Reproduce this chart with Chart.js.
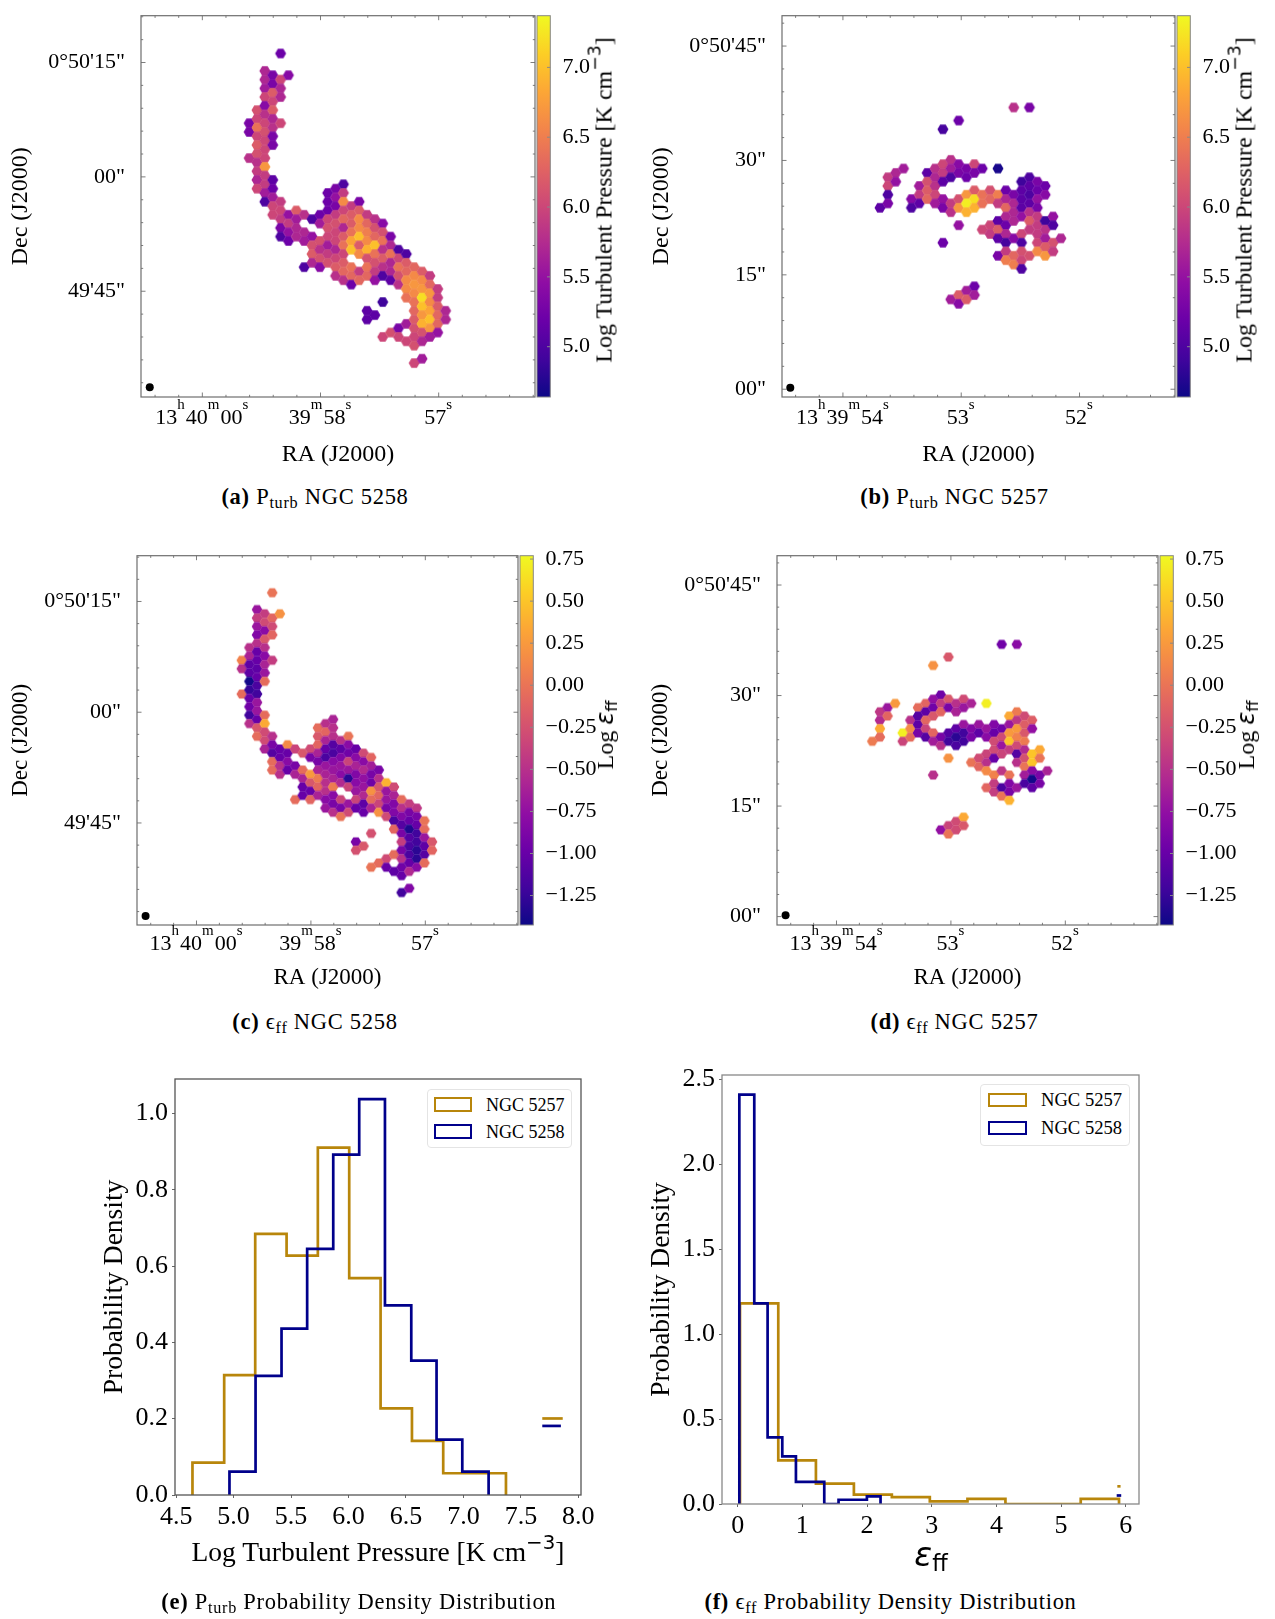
<!DOCTYPE html>
<html>
<head>
<meta charset="utf-8">
<title>NGC 5257/8 turbulent pressure and star formation efficiency</title>
<script src="https://cdn.jsdelivr.net/npm/chart.js@4"></script>
<style>
  html, body { margin: 0; padding: 0; background: #fff; }
  #page { position: relative; width: 1275px; height: 1619px; overflow: hidden; font-family: "Liberation Serif", serif; color: #000; }
  canvas { position: absolute; }
  .label { position: absolute; white-space: nowrap; transform: translate(-50%, -50%); }
  .rot { transform: translate(-50%, -50%) rotate(-90deg); }
  .up { font-family: "DejaVu Sans", sans-serif; font-size: 0.72em; position: relative; top: -0.62em; }
  .eps { font-family: "DejaVu Sans", sans-serif; font-style: italic; }
  .ff { font-family: "DejaVu Sans", sans-serif; font-size: 0.68em; position: relative; top: 0.22em; }
  .caption { font-size: 22.5px; letter-spacing: 0.72px; }
  .caption sub { font-size: 0.72em; vertical-align: baseline; position: relative; top: 0.25em; }
  .legend { position: absolute; border: 1px solid #e4e4e4; border-radius: 4px; background: #fff; box-sizing: border-box; }
  .legend-swatch { position: absolute; box-sizing: border-box; border-style: solid; border-width: 2.7px; }
  .legend-text { position: absolute; white-space: nowrap; transform: translateY(-50%); }
</style>
</head>
<body>
<div id="page"></div>
<script>
// Each row: lattice column, then (lattice row, value) pairs
const pturb5258 = [
  [-4, 16,5.3, 18,5.3, 24,5.8],
  [-3, 13,6.1, 15,6.0, 17,6.4, 19,6.0, 21,6.2, 23,6.1, 25,5.8, 27,5.9, 29,5.7, 31,6.0],
  [-2, 4,5.7, 6,5.7, 8,5.6, 10,6.0, 12,5.4, 14,5.8, 16,6.0, 18,6.1, 20,6.0, 22,6.0, 24,6.0, 26,6.7, 28,5.9, 30,5.9, 32,5.6, 34,5.0],
  [-1, 5,5.3, 7,5.3, 9,6.2, 11,6.0, 13,6.2, 15,5.7, 17,5.8, 19,5.3, 21,5.3, 29,5.1, 31,5.2, 33,5.6, 35,6.0, 37,6.0],
  [0, 0,5.2, 6,6.0, 8,5.7, 10,5.7, 16,6.0, 34,5.9, 36,6.0, 38,5.9, 40,5.3, 42,5.0],
  [1, 5,5.4, 37,5.5, 39,5.9, 41,5.5, 43,5.2],
  [2, 36,6.2, 38,5.6, 40,5.7, 42,5.7],
  [3, 37,5.8, 41,5.7, 43,5.6, 49,5.0],
  [4, 38,5.0, 42,5.5, 44,6.1, 46,6.2, 48,5.7],
  [5, 37,5.2, 39,5.6, 43,6.1, 45,5.8, 47,6.1, 49,5.4],
  [6, 32,5.2, 34,5.2, 36,5.2, 38,6.0, 40,6.1, 42,6.0, 44,5.6, 46,5.9, 48,6.1],
  [7, 31,5.3, 33,5.5, 35,5.3, 37,5.9, 39,6.1, 41,6.0, 43,6.0, 45,5.7, 47,6.0, 49,6.2, 51,5.8],
  [8, 30,5.0, 32,5.9, 34,6.6, 36,6.0, 38,6.3, 40,5.7, 42,6.2, 44,6.4, 46,6.0, 48,6.2, 50,6.3, 52,5.8],
  [9, 35,5.9, 37,6.2, 39,6.2, 41,6.4, 43,6.8, 45,7.0, 49,6.4, 51,6.3, 53,5.2],
  [10, 34,5.3, 36,6.2, 38,6.6, 40,6.6, 42,7.0, 44,6.2, 46,6.6, 50,5.9, 52,6.3],
  [11, 37,5.9, 39,6.3, 41,6.5, 43,6.6, 45,6.9, 47,6.1, 49,6.4, 51,6.3, 59,5.1, 61,5.1],
  [12, 38,5.8, 40,6.1, 42,6.3, 44,7.0, 46,6.4, 48,6.1, 50,5.9, 52,5.5, 60,5.1],
  [13, 39,5.4, 41,6.1, 43,6.4, 45,5.8, 47,6.2, 49,5.8, 51,5.0, 57,4.9, 65,6.0],
  [14, 42,5.3, 44,5.7, 46,6.4, 48,5.7, 50,5.7, 52,5.1, 64,6.1],
  [15, 45,5.0, 47,6.0, 49,6.4, 51,6.1, 53,5.8, 63,5.3, 65,6.0],
  [16, 46,5.0, 48,6.2, 50,6.3, 52,6.6, 54,6.6, 56,6.4, 62,5.6, 66,6.0],
  [17, 49,6.3, 51,6.6, 53,6.7, 55,6.6, 57,6.4, 59,6.3, 61,6.2, 63,6.1, 65,6.0, 67,6.1, 71,6.0],
  [18, 50,6.2, 52,6.6, 54,6.7, 56,7.2, 58,7.0, 60,6.7, 62,6.9, 64,6.1, 66,5.7, 70,5.6],
  [19, 51,5.9, 53,6.3, 55,6.7, 57,6.6, 59,6.8, 61,7.0, 63,6.7, 65,5.6],
  [20, 54,5.9, 56,5.9, 58,6.2, 60,6.3, 62,6.3, 64,5.5],
  [21, 59,5.7, 61,5.7]
];

const pturb5257 = [
  [-10, 20,5.1],
  [-9, 13,5.9, 15,6.0, 17,5.0, 19,5.3],
  [-8, 12,5.7, 14,5.5],
  [-7, 11,5.6],
  [-6, 18,5.4, 20,5.0],
  [-5, 15,5.6, 17,5.9, 19,5.1],
  [-4, 12,5.1, 14,6.1, 16,6.2, 18,6.3],
  [-3, 11,5.8, 13,5.7, 15,5.8, 17,6.0, 19,5.6],
  [-2, 2,4.95, 10,6.0, 12,5.9, 14,5.1, 18,5.5, 20,5.3, 28,5.2],
  [-1, 9,5.8, 11,5.6, 13,5.0, 19,5.9, 21,5.8, 41,5.6],
  [0, 0,5.2, 10,5.4, 12,5.3, 18,6.1, 20,6.7, 24,5.5, 40,6.2, 42,5.4],
  [1, 11,5.3, 13,5.2, 17,6.7, 19,7.3, 21,6.9, 39,5.6, 41,6.2],
  [2, 10,6.0, 12,5.3, 16,6.2, 18,7.2, 20,6.9, 38,5.2, 40,5.6],
  [3, 11,5.2, 17,6.4, 19,6.4, 25,6.0],
  [4, 16,6.1, 18,6.3, 24,6.0, 26,5.9],
  [5, 11,4.7, 17,6.5, 19,5.9, 23,5.1, 25,6.2, 27,5.1, 31,5.3],
  [6, 16,5.2, 18,5.7, 20,6.3, 22,5.7, 24,5.2, 26,5.7, 28,4.95, 30,5.9, 32,6.5],
  [7, -3,5.8, 17,5.3, 19,5.7, 21,5.7, 23,5.7, 27,5.4, 31,6.3, 33,6.5],
  [8, 14,4.9, 16,5.1, 18,5.1, 20,5.1, 22,5.5, 26,6.0, 28,5.0, 30,6.1, 32,6.0, 34,5.0],
  [9, -3,5.3, 13,5.0, 15,5.1, 17,5.0, 19,5.1, 21,5.8, 23,6.2, 25,5.9, 31,6.1],
  [10, 14,5.3, 16,5.2, 18,5.5, 20,5.3, 22,5.9, 24,5.9, 26,5.9, 28,6.0, 30,6.6],
  [11, 15,5.2, 17,5.4, 23,4.9, 25,5.8, 27,5.6, 29,6.2, 31,6.7],
  [12, 22,5.5, 24,5.0, 28,6.1, 30,5.9],
  [13, 27,5.7]
];

const eff5258 = [
  [-4, 16,0.1, 18,-0.5, 24,-0.05],
  [-3, 13,-0.5, 15,-0.6, 17,-1.05, 19,-1.05, 21,-1.4, 23,-1.25, 25,-1.0, 27,-0.95, 29,-1.2, 31,-0.5],
  [-2, 4,-0.7, 6,-0.4, 8,-0.7, 10,-0.85, 12,-0.5, 14,-1.0, 16,-1.0, 18,-1.05, 20,-1.0, 22,-1.15, 24,-1.2, 26,-0.7, 28,-0.7, 30,-1.0, 32,-0.2, 34,-0.05],
  [-1, 5,-0.4, 7,-0.3, 9,-0.8, 11,-0.2, 13,-0.5, 15,-0.8, 17,-0.6, 19,-0.7, 21,-0.05, 29,-0.05, 31,0.35, 33,-0.3, 35,-0.3, 37,-0.6],
  [0, 0,0.0, 6,-0.1, 8,-0.3, 10,-0.1, 16,-0.4, 34,-0.5, 36,-0.9, 38,-1.1, 40,-0.05, 42,-0.05],
  [1, 5,0.2, 37,-1.0, 39,-1.0, 41,-0.5, 43,-0.5],
  [2, 36,0.15, 38,-1.0, 40,-0.8, 42,-1.0],
  [3, 37,-0.35, 41,-0.9, 43,-0.6, 49,-0.05],
  [4, 38,-0.2, 42,-0.05, 44,-0.6, 46,-1.0, 48,-1.0],
  [5, 37,-0.3, 39,-0.9, 43,0.25, 45,-0.2, 47,-1.0, 49,-0.1],
  [6, 32,-0.05, 34,-0.2, 36,-0.1, 38,-0.6, 40,-0.9, 42,-0.6, 44,0.05, 46,-0.1, 48,-0.6],
  [7, 31,-0.5, 33,-0.1, 35,-0.6, 37,-1.0, 39,-1.15, 41,-0.7, 43,-0.6, 45,-0.5, 47,-0.5, 49,-0.8, 51,-0.7],
  [8, 30,-0.6, 32,-0.5, 34,-0.5, 36,-1.1, 38,-1.15, 40,-0.8, 42,-0.7, 44,-0.6, 46,0.05, 48,-0.8, 50,-0.9, 52,-0.5],
  [9, 35,-0.5, 37,-1.05, 39,-0.85, 41,-0.7, 43,-0.8, 45,-0.55, 49,-0.35, 51,-0.9, 53,0.0],
  [10, 34,0.0, 36,-0.8, 38,-0.95, 40,-0.35, 42,-0.7, 44,-1.3, 46,-0.35, 50,-0.7, 52,-0.3],
  [11, 37,-1.0, 39,-0.8, 41,-0.6, 43,-0.85, 45,-0.8, 47,-0.7, 49,-0.35, 51,-1.0, 59,-0.9, 61,-0.25],
  [12, 38,-0.3, 40,-0.8, 42,-0.55, 44,-0.75, 46,-0.7, 48,-0.55, 50,-1.05, 52,-1.0, 60,-0.2],
  [13, 39,-0.1, 41,-0.65, 43,-0.9, 45,-0.95, 47,0.2, 49,-0.05, 51,-0.6, 57,-0.25, 65,0.0],
  [14, 42,-0.9, 44,-0.5, 46,-0.2, 48,-0.1, 50,-0.35, 52,0.2, 64,-0.05],
  [15, 45,0.4, 47,-0.7, 49,-0.7, 51,-0.9, 53,-0.3, 63,-0.3, 65,-1.0],
  [16, 46,-0.3, 48,-0.6, 50,-0.85, 52,-0.85, 54,-1.15, 56,-0.1, 62,-0.05, 66,-1.05],
  [17, 49,-0.05, 51,-0.5, 53,-0.85, 55,-1.1, 57,-0.9, 59,-0.4, 61,-0.9, 63,-0.5, 65,-0.95, 67,-1.0, 71,-1.2],
  [18, 50,-0.4, 52,-0.9, 54,-1.0, 56,-1.35, 58,-1.1, 60,-1.15, 62,-1.15, 64,-1.0, 66,-0.55, 70,-0.85],
  [19, 51,-0.45, 53,-0.9, 55,-1.0, 57,-1.2, 59,-1.2, 61,-1.3, 63,-1.3, 65,-0.8],
  [20, 54,0.0, 56,-0.05, 58,-0.7, 60,-1.05, 62,-1.1, 64,-0.05],
  [21, 59,-0.2, 61,-0.1]
];

const eff5257 = [
  [-10, 20,0.05],
  [-9, 13,-0.45, 15,-0.55, 17,0.35, 19,-0.05],
  [-8, 12,-0.7, 14,-0.1],
  [-7, 11,0.25],
  [-6, 18,0.72, 20,-0.35],
  [-5, 15,-0.5, 17,0.15, 19,-0.05],
  [-4, 12,-0.05, 14,-1.1, 16,-1.05, 18,-0.9],
  [-3, 11,-0.1, 13,-1.05, 15,-0.1, 17,-0.35, 19,-1.1],
  [-2, 2,0.2, 10,-0.75, 12,-0.95, 14,-0.2, 18,-0.1, 20,-0.65, 28,-0.5],
  [-1, 9,-0.95, 11,-0.4, 13,-0.1, 19,-0.9, 21,-0.5, 41,-0.75],
  [0, 0,-0.2, 10,-0.2, 12,-0.9, 18,-1.1, 20,-1.2, 24,0.2, 40,-0.35, 42,0.0],
  [1, 11,-0.5, 13,-0.6, 17,-1.05, 19,-1.3, 21,-1.15, 39,-0.3, 41,-0.3],
  [2, 10,-0.3, 12,-0.7, 16,-0.7, 18,-1.2, 20,-1.2, 38,0.35, 40,-0.2],
  [3, 11,-0.6, 17,-0.85, 19,-0.9, 25,0.0],
  [4, 16,-0.7, 18,-1.05, 24,-0.3, 26,-0.1],
  [5, 11,0.72, 17,-0.7, 19,-0.8, 23,-0.35, 25,-0.5, 27,0.15, 31,-0.1],
  [6, 16,-0.85, 18,-1.0, 20,-0.3, 22,-0.3, 24,-1.0, 28,0.1, 30,-0.4, 32,-0.4],
  [7, -3,-0.95, 17,-0.95, 19,-0.3, 21,-0.7, 23,-0.35, 27,-0.45, 31,-1.15, 33,0.0],
  [8, 14,0.35, 16,-0.7, 18,0.25, 20,0.5, 22,-0.4, 28,0.0, 30,-0.85, 32,-0.9, 34,0.4],
  [9, -3,-0.8, 13,0.05, 15,-0.45, 17,0.25, 19,0.1, 21,-0.3, 23,-1.1, 25,-0.5, 31,-0.7],
  [10, 14,-0.3, 16,-0.15, 18,-0.2, 20,0.05, 22,-0.55, 24,-0.25, 26,0.0, 28,-0.65, 30,-1.15],
  [11, 15,-0.15, 17,-0.75, 23,0.5, 25,0.5, 27,-0.8, 29,-1.4, 31,-1.05],
  [12, 22,0.35, 24,0.0, 28,-0.9, 30,-0.9],
  [13, 27,-0.6]
];

// Sky position of the hexagon lattice, seconds of RA and arcsec of Dec
const latticeOrigin5258 = [59.338, 76.19];
const latticeOrigin5257 = [53.022, 35.23];
const latticeStep = [0.0665, 0.572];
const beam5258 = [60.445, 32.4];
const beam5257 = [54.445, 0.2];

const raTicks5258 = [60, 59, 58];
const raTicks5257 = [54, 53, 52];
const raLabels5258 = [[['13', 'h'], ['40', 'm'], ['00', 's']], [['39', 'm'], ['58', 's']], [['57', 's']]];
const raLabels5257 = [[['13', 'h'], ['39', 'm'], ['54', 's']], [['53', 's']], [['52', 's']]];
const decTicks5258 = [75, 60, 45];
const decLabels5258 = ['0°50\'15"', '00"', '49\'45"'];
const decTicks5257 = [45, 30, 15, 0];
const decLabels5257 = ['0°50\'45"', '30"', '15"', '00"'];

const pturbBarTicks = [5.0, 5.5, 6.0, 6.5, 7.0];
const effBarTicks = [-1.25, -1.0, -0.75, -0.5, -0.25, 0, 0.25, 0.5, 0.75];
const pturbRange = [4.64, 7.37];
const effRange = [-1.425, 0.77];

const pturbEdges5257 = [4.642, 4.918, 5.188, 5.461, 5.733, 6.006, 6.279, 6.552, 6.824, 7.097, 7.37];
const pturbDensity5257 = [0.085, 0.314, 0.684, 0.627, 0.91, 0.568, 0.227, 0.142, 0.057, 0.057];
const pturbEdges5258 = [4.964, 5.191, 5.417, 5.64, 5.867, 6.093, 6.317, 6.546, 6.766, 6.99, 7.219];
const pturbDensity5258 = [0.061, 0.312, 0.436, 0.645, 0.892, 1.0375, 0.497, 0.352, 0.145, 0.061];
const pturbStray5257 = [[7.686, 0.2005], [7.864, 0.2005]];
const pturbStray5258 = [[7.686, 0.181], [7.848, 0.181]];
const pturbXTicks = [4.5, 5.0, 5.5, 6.0, 6.5, 7.0, 7.5, 8.0];
const pturbYTicks = [0, 0.2, 0.4, 0.6, 0.8, 1.0];

const effEdges5257 = [0.036, 0.628, 1.21, 1.797, 2.384, 2.971, 3.553, 4.14, 4.722, 5.304, 5.896];
const effDensity5257 = [1.18, 0.257, 0.12, 0.055, 0.04, 0.015, 0.03, 0, 0, 0.03];
const effEdges5258 = [0.026, 0.257, 0.463, 0.69, 0.901, 1.123, 1.339, 1.56, 1.782, 1.998, 2.209];
const effDensity5258 = [2.408, 1.18, 0.392, 0.28, 0.13, 0.13, 0, 0.025, 0.025, 0.045];
const effStray5257 = [[5.87, 0.104], [5.92, 0.104]];
const effStray5258 = [[5.86, 0.05], [5.93, 0.05]];
const effXTicks = [0, 1, 2, 3, 4, 5, 6];
const effYTicks = [0, 0.5, 1.0, 1.5, 2.0, 2.5];

const galaxyNames = ['NGC 5257', 'NGC 5258'];
const galaxyColors = ['#b8860b', '#00008b'];

const plasma = ['#0d0887', '#41049d', '#6a00a8', '#8f0da4', '#b12a90', '#cc4778', '#e16462', '#f2844b', '#fca636', '#fcce25', '#f0f921'];

const page = document.getElementById('page');
const serif = '"Liberation Serif"';

function plasmaColor(t) {
  t = Math.min(1, Math.max(0, t)) * (plasma.length - 1);
  const i = Math.min(plasma.length - 2, Math.floor(t));
  const a = parseInt(plasma[i].slice(1), 16), b = parseInt(plasma[i + 1].slice(1), 16);
  const mix = s => Math.round(((a >> s) & 255) * (1 - t + i) + ((b >> s) & 255) * (t - i));
  return `rgb(${mix(16)},${mix(8)},${mix(0)})`;
}

// chart.js has no hexagon point style, so points use small canvases
const hexCache = {};
function hexImage(color, r) {
  const key = color + r;
  if (hexCache[key]) return hexCache[key];
  const c = document.createElement('canvas');
  c.width = c.height = 16;
  const g = c.getContext('2d');
  g.filter = 'blur(0.45px)';
  g.fillStyle = color;
  g.beginPath();
  for (let i = 0; i < 6; i++) {
    g.lineTo(8 + (r + 0.25) * Math.cos(i * Math.PI / 3), 8 + (r + 0.25) * Math.sin(i * Math.PI / 3));
  }
  g.closePath();
  g.fill();
  hexCache[key] = c;
  return c;
}

function addLabel(html, x, y, style, cls) {
  const d = document.createElement('div');
  d.className = 'label ' + (cls || '');
  d.style.left = x + 'px';
  d.style.top = y + 'px';
  d.style.cssText += style || '';
  d.innerHTML = html;
  page.appendChild(d);
}

function addCanvas(box, margin) {
  const c = document.createElement('canvas');
  c.width = margin.l + box.r - box.l + margin.r;
  c.height = margin.t + box.b - box.t + margin.b;
  c.style.left = (box.l - margin.l) + 'px';
  c.style.top = (box.t - margin.t) + 'px';
  page.appendChild(c);
  return c;
}

function setTicks(values) {
  return scale => { scale.ticks = values.map(v => ({ value: v })); };
}

function mapPoints(rows, origin) {
  const pts = [];
  rows.forEach(row => {
    for (let i = 1; i < row.length; i += 2) {
      pts.push({ x: origin[0] - row[0] * latticeStep[0], y: origin[1] - row[i] * latticeStep[1], v: row[i + 1] });
    }
  });
  return pts;
}

const mapFurniture = {
  id: 'mapFurniture',
  afterDraw(chart, args, o) {
    const g = chart.ctx, a = chart.chartArea, xs = chart.scales.x, ys = chart.scales.y, cb = chart.scales.cb;
    g.save();
    // colour bar
    const grad = g.createLinearGradient(0, a.bottom, 0, a.top);
    plasma.forEach((c, i) => grad.addColorStop(i / (plasma.length - 1), c));
    g.fillStyle = grad;
    g.fillRect(a.right + 2, a.top, 13.3, a.bottom - a.top);
    g.strokeStyle = '#888';
    g.lineWidth = 1;
    g.strokeRect(a.right + 2, a.top, 13.3, a.bottom - a.top);
    o.barTicks.forEach(v => {
      const y = cb.getPixelForValue(v);
      g.beginPath();
      g.moveTo(a.right + 15.3, y);
      g.lineTo(a.right + 12, y);
      g.stroke();
    });
    // frame and inward ticks on all four sides
    g.strokeStyle = '#6e6e6e';
    g.lineWidth = 1.2;
    g.strokeRect(a.left, a.top, a.right - a.left, a.bottom - a.top);
    g.lineWidth = 0.9;
    const tick = (x0, y0, x1, y1) => { g.beginPath(); g.moveTo(x0, y0); g.lineTo(x1, y1); g.stroke(); };
    for (let v = o.raTicks[0] + 0.4; v > xs.min; v -= 0.2) {
      const x = xs.getPixelForValue(v);
      const major = o.raTicks.some(t => Math.abs(t - v) < 0.01);
      const len = major ? 4.5 : 2.2;
      if (x < a.left || x > a.right) continue;
      tick(x, a.bottom, x, a.bottom - len);
      tick(x, a.top, x, a.top + len);
    }
    for (let v = o.decTicks[0] + 6; v > ys.min; v -= 3) {
      const y = ys.getPixelForValue(v);
      const major = o.decTicks.includes(v);
      const len = major ? 4.5 : 2.2;
      if (y < a.top || y > a.bottom) continue;
      tick(a.left, y, a.left + len, y);
      tick(a.right, y, a.right - len, y);
    }
    // RA labels with raised unit letters
    g.fillStyle = '#000';
    g.textBaseline = 'alphabetic';
    g.textAlign = 'left';
    const bigFont = `${o.tickSize}px ${serif}`, smallFont = `${Math.round(o.tickSize * 0.7)}px ${serif}`;
    o.raTicks.forEach((v, i) => {
      const parts = o.raLabels[i];
      let w = 0;
      parts.forEach(p => {
        g.font = bigFont; w += g.measureText(p[0]).width;
        g.font = smallFont; w += g.measureText(p[1]).width + 1;
      });
      let x = xs.getPixelForValue(v) - w / 2;
      const y = a.bottom + o.raBase;
      parts.forEach(p => {
        g.font = bigFont; g.fillText(p[0], x, y); x += g.measureText(p[0]).width;
        g.font = smallFont; g.fillText(p[1], x, y - o.tickSize * 0.66); x += g.measureText(p[1]).width + 1;
      });
    });
    g.restore();
  }
};

function makeMap(p) {
  const margin = { l: 135, r: 85, t: 20, b: p.bottom };
  new Chart(addCanvas(p.box, margin), {
    type: 'scatter',
    data: {
      datasets: [
        { data: mapPoints(p.rows, p.origin),
          pointRadius: 5,
          pointStyle: ctx => hexImage(plasmaColor((ctx.raw.v - p.range[0]) / (p.range[1] - p.range[0])), p.hex) },
        { data: [{ x: p.beam[0], y: p.beam[1] }], pointRadius: 4, backgroundColor: '#000', borderWidth: 0 }
      ]
    },
    options: {
      responsive: false,
      animation: false,
      devicePixelRatio: 1,
      layout: { padding: { top: margin.t, left: 0, right: 0, bottom: 0 } },
      plugins: {
        legend: { display: false },
        tooltip: { enabled: false },
        mapFurniture: { barTicks: p.barTicks, raTicks: p.raTicks, raLabels: p.raLabels, decTicks: p.decTicks, tickSize: p.tickSize, raBase: p.raBase }
      },
      scales: {
        x: {
          type: 'linear', reverse: true, min: p.xLim[0], max: p.xLim[1],
          grid: { display: false }, border: { display: false },
          ticks: { display: false },
          afterBuildTicks: setTicks(p.raTicks),
          afterFit: s => { s.height = margin.b; },
          title: { display: true, text: 'RA (J2000)', color: '#000', padding: 0, font: { family: serif, size: p.titleSize } }
        },
        y: {
          type: 'linear', min: p.yLim[0], max: p.yLim[1],
          grid: { display: false }, border: { display: false },
          ticks: { color: '#000', padding: 8, autoSkip: false, font: { family: serif, size: p.tickSize },
            callback: (v, i) => p.decLabels[i] },
          afterBuildTicks: setTicks(p.decTicks),
          afterFit: s => { s.width = margin.l; },
          title: { display: true, text: 'Dec (J2000)', color: '#000', padding: { top: p.titlePad, bottom: 0 }, font: { family: serif, size: p.titleSize } }
        },
        cb: {
          axis: 'y', type: 'linear', position: 'right', min: p.range[0], max: p.range[1],
          grid: { display: false }, border: { display: false },
          ticks: { color: '#000', padding: p.barPad, autoSkip: false, font: { family: serif, size: p.tickSize },
            callback: v => (p.barDigits === 2 ? v.toFixed(2) : v.toFixed(1)).replace('-', '\u2212') },
          afterBuildTicks: setTicks(p.barTicks),
          afterFit: s => { s.width = margin.r; }
        }
      }
    },
    plugins: [mapFurniture]
  });
}

function histOutline(edges, density) {
  const pts = [{ x: edges[0], y: 0 }];
  density.forEach((d, i) => {
    pts.push({ x: edges[i], y: d });
    pts.push({ x: edges[i + 1], y: d });
  });
  pts.push({ x: edges[edges.length - 1], y: 0 });
  return pts;
}

const histFrame = {
  id: 'histFrame',
  afterDraw(chart, args, o) {
    const g = chart.ctx, a = chart.chartArea;
    g.save();
    g.strokeStyle = o.color;
    g.lineWidth = 1.3;
    g.strokeRect(a.left, a.top, a.right - a.left, a.bottom - a.top);
    g.restore();
  }
};

function makeHist(p) {
  const margin = { l: 100, r: 30, t: 20, b: 40 };
  const line = (data, i, w) => ({
    data, showLine: true, pointRadius: 0, fill: false,
    borderColor: galaxyColors[i], borderWidth: w, tension: 0,
    borderJoinStyle: 'miter', borderCapStyle: 'butt', order: 2 - i
  });
  const stray = s => s.map(q => ({ x: q[0], y: q[1] }));
  new Chart(addCanvas(p.box, margin), {
    type: 'scatter',
    data: {
      datasets: [
        line(histOutline(p.edges[0], p.density[0]), 0, 2.7),
        line(histOutline(p.edges[1], p.density[1]), 1, 2.7),
        line(stray(p.stray[0]), 0, 2.7),
        line(stray(p.stray[1]), 1, 2.7)
      ]
    },
    options: {
      responsive: false,
      animation: false,
      devicePixelRatio: 1,
      layout: { padding: { top: margin.t, right: margin.r } },
      plugins: { legend: { display: false }, tooltip: { enabled: false }, histFrame: { color: p.frame } },
      scales: {
        x: {
          type: 'linear', min: p.xLim[0], max: p.xLim[1],
          grid: { drawOnChartArea: false, tickLength: 3, color: '#666' }, border: { display: false },
          ticks: { color: '#000', padding: p.xPad, maxRotation: 0, autoSkip: false, font: { family: serif, size: 26 },
            callback: v => v.toFixed(p.xDigits) },
          afterBuildTicks: setTicks(p.xTicks),
          afterFit: s => { s.height = margin.b; }
        },
        y: {
          type: 'linear', min: 0, max: p.yMax,
          grid: { drawOnChartArea: false, tickLength: 3, color: '#666' }, border: { display: false },
          ticks: { color: '#000', padding: 4, autoSkip: false, font: { family: serif, size: 26 },
            callback: v => v.toFixed(1) },
          afterBuildTicks: setTicks(p.yTicks),
          afterFit: s => { s.width = margin.l; },
          title: { display: true, text: 'Probability Density', color: '#000', padding: { top: p.titlePad, bottom: 0 }, font: { family: serif, size: 27.5 } }
        }
      }
    },
    plugins: [histFrame]
  });
}

function makeLegend(frame, swatchX, swatchY, textX, size) {
  const d = document.createElement('div');
  d.className = 'legend';
  d.style.cssText = `left:${frame[0]}px;top:${frame[1]}px;width:${frame[2]}px;height:${frame[3]}px`;
  galaxyNames.forEach((name, i) => {
    const s = document.createElement('div');
    s.className = 'legend-swatch';
    s.style.cssText = `left:${swatchX[0] - frame[0]}px;top:${swatchY[i] - frame[1]}px;width:${swatchX[1]}px;height:14.5px;border-color:${galaxyColors[i]}`;
    d.appendChild(s);
    const t = document.createElement('div');
    t.className = 'legend-text';
    t.textContent = name;
    t.style.cssText = `left:${textX - frame[0]}px;top:${swatchY[i] - frame[1] + 7.5}px;font-size:${size}px`;
    d.appendChild(t);
  });
  page.appendChild(d);
}

const bigMap = { tickSize: 22, titleSize: 24, titlePad: 0, bottom: 72, raBase: 27, barPad: 19.5 };
const smallMap = { tickSize: 22, titleSize: 23, titlePad: 5, bottom: 67, raBase: 25, barPad: 19.5 };

makeMap({ ...bigMap, box: { l: 141.3, t: 3.3, r: 535.7, b: 397.3 }, rows: pturb5258, origin: latticeOrigin5258, beam: beam5258, hex: 5.25,
  range: pturbRange, barTicks: pturbBarTicks, barDigits: 1, raTicks: raTicks5258, raLabels: raLabels5258, decTicks: decTicks5258, decLabels: decLabels5258,
  xLim: [57.185, 60.519], yLim: [31.13, 81.14] });
makeMap({ ...bigMap, box: { l: 781.7, t: 3.3, r: 1175.3, b: 397.3 }, rows: pturb5257, origin: latticeOrigin5257, beam: beam5257, hex: 5.25,
  range: pturbRange, barTicks: pturbBarTicks, barDigits: 1, raTicks: raTicks5257, raLabels: raLabels5257, decTicks: decTicks5257, decLabels: decLabels5257,
  xLim: [51.193, 54.515], yLim: [-1.02, 48.98] });
makeMap({ ...smallMap, box: { l: 136.7, t: 543.3, r: 518.3, b: 925.7 }, rows: eff5258, origin: latticeOrigin5258, beam: beam5258, hex: 5.09,
  range: effRange, barTicks: effBarTicks, barDigits: 2, raTicks: raTicks5258, raLabels: raLabels5258, decTicks: decTicks5258, decLabels: decLabels5258,
  xLim: [57.19, 60.52], yLim: [31.18, 81.2] });
makeMap({ ...smallMap, box: { l: 776.7, t: 543.3, r: 1158.3, b: 925.7 }, rows: eff5257, origin: latticeOrigin5257, beam: beam5257, hex: 5.09,
  range: effRange, barTicks: effBarTicks, barDigits: 2, raTicks: raTicks5257, raLabels: raLabels5257, decTicks: decTicks5257, decLabels: decLabels5257,
  xLim: [51.19, 54.52], yLim: [-1.14, 48.98] });

makeHist({ box: { l: 175, t: 1079.3, r: 581, b: 1496 }, edges: [pturbEdges5257, pturbEdges5258], density: [pturbDensity5257, pturbDensity5258], stray: [pturbStray5257, pturbStray5258],
  xTicks: pturbXTicks, yTicks: pturbYTicks, xLim: [4.49, 8.023], yMax: 1.09, xDigits: 1, xPad: 4, frame: '#555', titlePad: 23 });
makeHist({ box: { l: 722, t: 1074.7, r: 1139.3, b: 1503.7 }, edges: [effEdges5257, effEdges5258], density: [effDensity5257, effDensity5258], stray: [effStray5257, effStray5258],
  xTicks: effXTicks, yTicks: effYTicks, xLim: [-0.242, 6.205], yMax: 2.524, xDigits: 0, xPad: 4, frame: '#888', titlePad: 23 });

makeLegend([426.7, 1089, 145, 59], [432.7, 38], [1096, 1123], 485, 18);
makeLegend([980, 1084, 150, 62], [986.7, 39], [1091.7, 1119.5], 1040, 18.6);

const cm3 = 'Log Turbulent Pressure [K cm<span class="up">\u22123</span>]';
addLabel(cm3, 604, 200, 'font-size:24px', 'rot');
addLabel(cm3, 1244, 200, 'font-size:24px', 'rot');
const logEff = 'Log <span class="eps">\u03b5</span><span class="ff">ff</span>';
addLabel(logEff, 605, 735, 'font-size:24px', 'rot');
addLabel(logEff, 1246, 735, 'font-size:24px', 'rot');
addLabel(cm3, 378, 1552, 'font-size:27.5px');
addLabel('<span class="eps">\u03b5</span><span class="ff">ff</span>', 931, 1554, 'font-size:33px');

const pturbSym = 'P<sub>turb</sub>', effSym = '\u03f5<sub>ff</sub>';
addLabel(`<b>(a)</b> ${pturbSym} NGC 5258`, 315, 497, '', 'caption');
addLabel(`<b>(b)</b> ${pturbSym} NGC 5257`, 954.5, 497, '', 'caption');
addLabel(`<b>(c)</b> ${effSym} NGC 5258`, 315, 1022, '', 'caption');
addLabel(`<b>(d)</b> ${effSym} NGC 5257`, 954.5, 1022, '', 'caption');
addLabel(`<b>(e)</b> ${pturbSym} Probability Density Distribution`, 358.8, 1602, '', 'caption');
addLabel(`<b>(f)</b> ${effSym} Probability Density Distribution`, 890.5, 1602, '', 'caption');
</script>
</body>
</html>
